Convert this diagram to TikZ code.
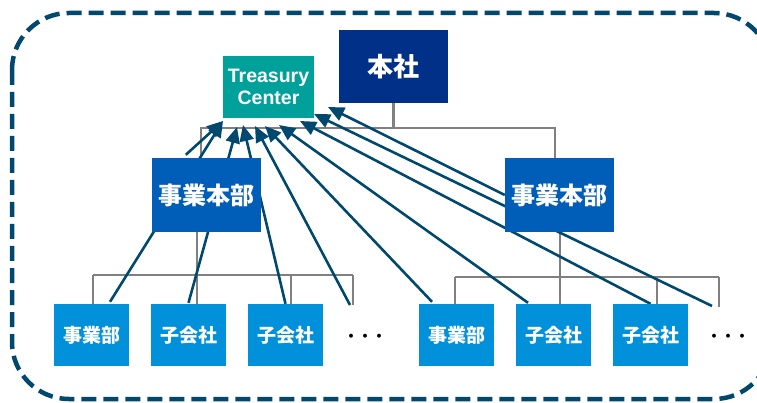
\documentclass[tikz,border=0pt]{standalone}
\usepackage{fontspec}
\setmainfont{Liberation Sans}
\newfontfamily\cjk{Noto Sans CJK JP}
\usetikzlibrary{arrows.meta,backgrounds,calc}
\definecolor{hqcol}{HTML}{003087}
\definecolor{tccol}{HTML}{00A19B}
\definecolor{divcol}{HTML}{005EB8}
\definecolor{subcol}{HTML}{0091DA}
\definecolor{arrcol}{HTML}{00486E}
\definecolor{treecol}{HTML}{808080}
\begin{document}
\begin{tikzpicture}[x=1pt,y=-1pt,
  box/.style={inner sep=0pt, text=white},
  hqbox/.style={box, fill=hqcol, minimum width=109pt, minimum height=73pt, font=\cjk\bfseries\fontsize{26}{30}\selectfont},
  tcbox/.style={box, fill=tccol, minimum width=91pt, minimum height=62pt, align=center, font=\bfseries\fontsize{19.5}{22}\selectfont},
  divbox/.style={box, fill=divcol, minimum width=109pt, minimum height=74pt, font=\cjk\bfseries\fontsize{24}{28}\selectfont},
  subbox/.style={box, fill=subcol, minimum width=75pt, minimum height=62pt, font=\cjk\bfseries\fontsize{19}{22}\selectfont},
  dotsbox/.style={inner sep=0pt, text=black, font=\cjk\bfseries\fontsize{14}{16}\selectfont},
  treeline/.style={draw=treecol, line width=2.2pt},
  flow/.style={draw=arrcol, line width=2.6pt, -{Triangle[length=16pt,width=14pt]}},
  framebox/.style={draw=arrcol, line width=4.5pt, dash pattern=on 15pt off 7pt, rounded corners=57pt}
]
\useasboundingbox (0,0) rectangle (757,403);
\begin{scope}
  \clip (0,0) rectangle (757,403);
  \draw[framebox] (12,13) rectangle (771,399);
\end{scope}

% nodes
\node[hqbox] (honsha) at (393.5,66.5) {本社};
\node[tcbox] (tc) at (268.5,87) {Treasury\\Center};
\node[divbox] (divL) at (206.5,195) {事業本部};
\node[divbox] (divR) at (559.5,195) {事業本部};
\node[subbox] (l1) at (91.5,335) {事業部};
\node[subbox] (l2) at (188.5,335) {子会社};
\node[subbox] (l3) at (285.5,335) {子会社};
\node[dotsbox] (dotsL) at (365,338) {・・・};
\node[subbox] (r1) at (456.5,335) {事業部};
\node[subbox] (r2) at (553.5,335) {子会社};
\node[subbox] (r3) at (650.5,335) {子会社};
\node[dotsbox] (dotsR) at (728,338) {・・・};

% junctions and arrow tips
\coordinate (topbarL) at (201,128);
\coordinate (topbarR) at (555,128);
\coordinate (topmid) at (393.5,128);
\coordinate (barL1) at (93,275);
\coordinate (barLm) at (197,275);
\coordinate (barL3) at (291,275);
\coordinate (barL4) at (353,275);
\coordinate (barR1) at (455,277);
\coordinate (barRm) at (560,277);
\coordinate (barR3) at (657,277);
\coordinate (barR4) at (719,277);
\coordinate (tipA) at (223,121);
\coordinate (tipB) at (237,127);
\coordinate (tipC) at (243,125);
\coordinate (tipD) at (255,126);
\coordinate (tipE) at (265,126);
\coordinate (tipF) at (279,125);
\coordinate (tipG) at (300,121);
\coordinate (tipH) at (314,114);
\coordinate (tipI) at (328,107);

\begin{scope}[on background layer]
  % tree lines
  \draw[treeline] (honsha.south) -- (topmid);
  \draw[treeline] (divL.north -| topbarL) -- (topbarL) -- (topbarR) -- (divR.north -| topbarR);
  \draw[treeline] (divL.south -| barLm) -- (barLm);
  \draw[treeline] (barL1) -- (barL4);
  \draw[treeline] (barL1) -- (l1.north -| barL1);
  \draw[treeline] (barLm) -- (l2.north -| barLm);
  \draw[treeline] (barL3) -- (l3.north -| barL3);
  \draw[treeline] (barL4) -- ++(0,30);
  \draw[treeline] (divR.south -| barRm) -- (barRm);
  \draw[treeline] (barR1) -- (barR4);
  \draw[treeline] (barR1) -- (r1.north -| barR1);
  \draw[treeline] (barRm) -- (r2.north -| barRm);
  \draw[treeline] (barR3) -- (r3.north -| barR3);
  \draw[treeline] (barR4) -- ++(0,30);
  % arrows to Treasury Center
  \draw[flow] ($(divL.north west)+(34,-3)$) -- (tipA);
  \draw[flow] ($(l1.north)+(18.5,-2)$) -- (tipA);
  \draw[flow] ($(l2.north)+(0,-1)$) -- (tipB);
  \draw[flow] (l3.north) -- (tipC);
  \draw[flow] ($(dotsL)+(-15,-33)$) -- (tipD);
  \draw[flow] ($(r1.north)+(-24.5,-2)$) -- (tipE);
  \draw[flow] ($(r2.north)+(-25.5,-1)$) -- (tipF);
  \draw[flow] (r3.north) -- (tipG);
  \draw[flow] ($(dotsR)+(-16,-32)$) -- (tipH);
  \draw[flow] (divR.west) -- (tipI);
\end{scope}
\end{tikzpicture}
\end{document}
